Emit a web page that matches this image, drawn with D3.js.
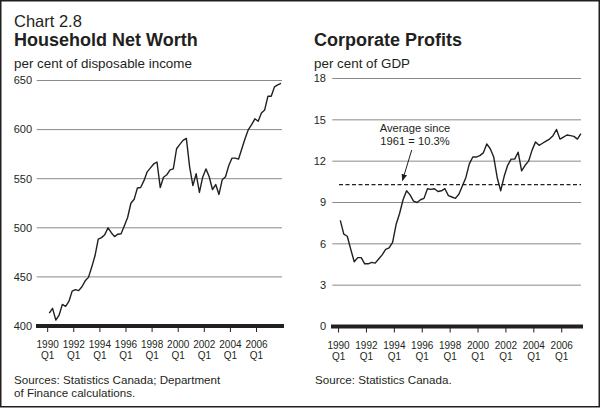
<!DOCTYPE html>
<html><head><meta charset="utf-8">
<script src="https://cdn.jsdelivr.net/npm/d3@7"></script>
<style>
html,body{margin:0;padding:0;background:#fff;}
svg{display:block;font-family:"Liberation Sans",Arial,Helvetica,sans-serif;}
</style></head>
<body>
<svg id="c" width="601" height="408"></svg>
<script>
// ---- data ----
const quarters = [
"1990Q1","1990Q2","1990Q3","1990Q4","1991Q1","1991Q2","1991Q3","1991Q4",
"1992Q1","1992Q2","1992Q3","1992Q4","1993Q1","1993Q2","1993Q3","1993Q4",
"1994Q1","1994Q2","1994Q3","1994Q4","1995Q1","1995Q2","1995Q3","1995Q4",
"1996Q1","1996Q2","1996Q3","1996Q4","1997Q1","1997Q2","1997Q3","1997Q4",
"1998Q1","1998Q2","1998Q3","1998Q4","1999Q1","1999Q2","1999Q3","1999Q4",
"2000Q1","2000Q2","2000Q3","2000Q4","2001Q1","2001Q2","2001Q3","2001Q4",
"2002Q1","2002Q2","2002Q3","2002Q4","2003Q1","2003Q2","2003Q3","2003Q4",
"2004Q1","2004Q2","2004Q3","2004Q4","2005Q1","2005Q2","2005Q3","2005Q4",
"2006Q1","2006Q2","2006Q3","2006Q4","2007Q1","2007Q2","2007Q3","2007Q4"];

const netWorth = [413,418,406,411,422,420,425,435.5,437,436,440,446,449.5,460,471.5,488.5,
490,493,500,495,491,493.5,494,502,510.5,525,529,540.5,541,548,557,561,
565,567,541,551.5,554,559,560,580.5,585,589,591,562,543,555,536,551.5,
560,552,539,544,534,549,552,563.5,571,571,570,580.5,591,600,605,611,
608.5,617,620,634,634,643.5,645.5,647];

const profits = [7.7,6.7,6.55,5.6,4.7,5.0,5.0,4.55,4.55,4.65,4.6,4.9,5.2,5.6,5.7,6.1,
7.4,8.2,9.2,9.85,9.55,9.1,9.0,9.2,9.3,10.0,9.95,10.0,9.8,9.85,10.0,9.5,
9.4,9.3,9.6,10.2,10.8,11.8,12.3,12.3,12.4,12.6,13.25,12.9,12.3,10.8,9.85,10.9,
11.7,12.15,12.15,12.65,11.3,11.7,12.0,12.8,13.4,13.15,13.3,13.45,13.6,13.85,14.3,13.6,
13.75,13.9,13.85,13.8,13.6,14.0];

const tickQuarters = ["1990Q1","1992Q1","1994Q1","1996Q1","1998Q1","2000Q1","2002Q1","2004Q1","2006Q1"];
const leftYTicks = [400,450,500,550,600,650];
const rightYTicks = [0,3,6,9,12,15,18];
const averageSince1961 = 10.3;

// ---- drawing ----
const svg = d3.select("#c");
const font = '"Liberation Sans",Arial,Helvetica,sans-serif';
const ink = "#231f20";

svg.append("rect").attr("x",0.75).attr("y",0.75).attr("width",598.5).attr("height",406)
  .attr("fill","none").attr("stroke",ink).attr("stroke-width",1.5);

function panel(opt){
  const g = svg.append("g");
  const idx = d => quarters.indexOf(d);
  const x = d3.scaleLinear().domain([0, opt.lastIndex]).range([opt.x0, opt.x1]);
  const y = d3.scaleLinear().domain(opt.yDomain).range([opt.yBottom, opt.yTop]);

  // grid lines
  g.selectAll("line.grid").data(opt.yTicks.slice(1)).enter().append("line")
    .attr("x1",opt.gx0).attr("x2",opt.gx1)
    .attr("y1",d=>y(d)).attr("y2",d=>y(d))
    .attr("stroke","#8a8a8a").attr("stroke-width",1);

  // y labels
  g.selectAll("text.yl").data(opt.yTicks).enter().append("text")
    .attr("x",opt.labelX).attr("y",d=>y(d)).attr("dy","0.35em")
    .attr("text-anchor","end").attr("font-size",11).attr("fill",ink)
    .text(d=>d);

  // x ticks (between quarters)
  const tx = q => x(idx(q) - 0.5);
  g.selectAll("line.xt").data(tickQuarters).enter().append("line")
    .attr("x1",tx).attr("x2",tx).attr("y1",opt.yBottom).attr("y2",opt.yBottom+6)
    .attr("stroke",ink).attr("stroke-width",1);
  const xl = g.selectAll("text.xl").data(tickQuarters).enter().append("text")
    .attr("text-anchor","middle").attr("font-size",10).attr("fill",ink);
  xl.append("tspan").attr("x",tx).attr("y",opt.yBottom+22).text(q=>q.slice(0,4));
  xl.append("tspan").attr("x",tx).attr("y",opt.yBottom+33).text(q=>q.slice(4));

  // baseline
  g.append("line").attr("x1",opt.bx0).attr("x2",opt.gx1+2)
    .attr("y1",opt.yBottom).attr("y2",opt.yBottom)
    .attr("stroke",ink).attr("stroke-width",4);

  // line
  const line = d3.line().x((d,i)=>x(i)).y(d=>y(d)).curve(d3.curveLinear);
  g.append("path").datum(opt.values).attr("d",line)
    .attr("fill","none").attr("stroke",ink).attr("stroke-width",1.4)
    .attr("stroke-linejoin","round");

  return {g,x,y};
}

const L = panel({values:netWorth,lastIndex:netWorth.length-1,x0:49.3,x1:281,
  yDomain:[400,650],yBottom:326,yTop:80.5,yTicks:leftYTicks,gx0:36.7,gx1:282,bx0:36,labelX:32});
const R = panel({values:profits,lastIndex:profits.length-1,x0:340.3,x1:580.9,
  yDomain:[0,18],yBottom:326.5,yTop:78.5,yTicks:rightYTicks,gx0:332.3,gx1:581,bx0:331,labelX:326});

// average dashed line
svg.append("line").attr("x1",339).attr("x2",581)
  .attr("y1",R.y(averageSince1961)).attr("y2",R.y(averageSince1961))
  .attr("stroke",ink).attr("stroke-width",1.2).attr("stroke-dasharray","4,2.5");

// annotation
const ann = svg.append("text").attr("text-anchor","middle").attr("font-size",11.2).attr("fill",ink);
ann.append("tspan").attr("x",415).attr("y",131.5).text("Average since");
ann.append("tspan").attr("x",415).attr("y",145).text("1961 = 10.3%");
svg.append("defs").append("marker").attr("id","ah").attr("viewBox","0 0 10 10")
  .attr("refX",9).attr("refY",5).attr("markerWidth",7).attr("markerHeight",7)
  .attr("orient","auto").attr("markerUnits","userSpaceOnUse")
  .append("path").attr("d","M0,1 L10,5 L0,9 Z").attr("fill",ink);
svg.append("line").attr("x1",411.7).attr("y1",150).attr("x2",402.5).attr("y2",180.5)
  .attr("stroke",ink).attr("stroke-width",1).attr("marker-end","url(#ah)");

// titles
svg.append("text").attr("x",14).attr("y",26.5).attr("font-size",16.5).attr("fill",ink).text("Chart 2.8");
svg.append("text").attr("x",14).attr("y",46).attr("font-size",18).attr("font-weight","bold").attr("fill",ink).text("Household Net Worth");
svg.append("text").attr("x",314).attr("y",46).attr("font-size",18).attr("font-weight","bold").attr("fill",ink).text("Corporate Profits");
svg.append("text").attr("x",14).attr("y",68).attr("font-size",13.4).attr("fill",ink).text("per cent of disposable income");
svg.append("text").attr("x",314).attr("y",68).attr("font-size",13.4).attr("fill",ink).text("per cent of GDP");

// sources
const s1 = svg.append("text").attr("font-size",11.6).attr("fill",ink);
s1.append("tspan").attr("x",14).attr("y",383.5).text("Sources: Statistics Canada; Department");
s1.append("tspan").attr("x",14).attr("y",396.8).text("of Finance calculations.");
svg.append("text").attr("x",315).attr("y",383.5).attr("font-size",11.6).attr("fill",ink).text("Source: Statistics Canada.");
</script>
</body></html>
